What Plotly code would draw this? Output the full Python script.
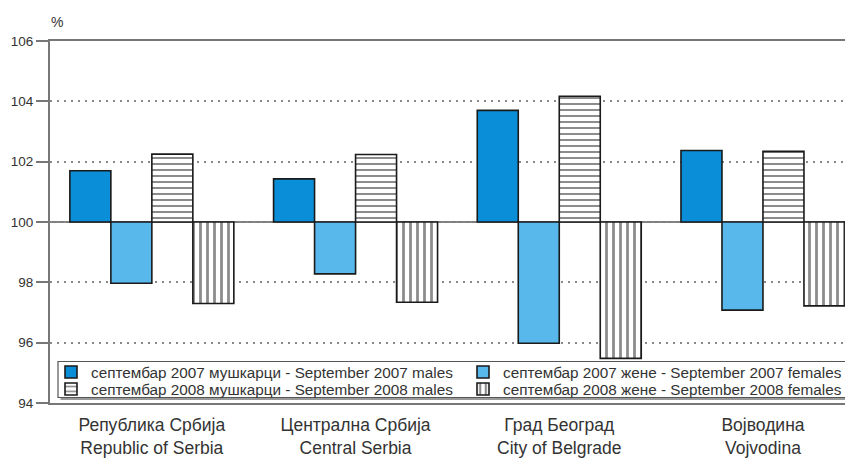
import plotly.graph_objects as go

categories = ["Република Србија<br>Republic of Serbia",
              "Централна Србија<br>Central Serbia",
              "Град Београд<br>City of Belgrade",
              "Војводина<br>Vojvodina"]
males_2007 = [101.70, 101.43, 103.70, 102.37]
females_2007 = [97.97, 98.28, 95.98, 97.08]
males_2008 = [102.25, 102.24, 104.17, 102.34]
females_2008 = [97.30, 97.34, 95.48, 97.22]
names = ["септембар 2007 мушкарци - September 2007 males",
         "септембар 2007 жене - September 2007 females",
         "септембар 2008 мушкарци - September 2008 males",
         "септембар 2008 жене - September 2008 females"]
BASE = 100
y_ticks = [94, 96, 98, 100, 102, 104, 106]

# page body has an 8px default margin: the figure origin sits at (8, 8) on screen
OFF = 8
W, H = 853, 459
# target plot area in screen pixels: left 50, top 41, right 853, bottom 403
ML, MT = 50 - OFF, 41 - OFF
MR = W - (853 - OFF)
MB = H - (403 - OFF)
PW, PH = W - ML - MR, H - MT - MB

def px_x(s):
    return (s - OFF - ML) / PW

def px_y(s):
    return (H - MB - (s - OFF)) / PH

OUT = "#1a1a1a"
fig = go.Figure()
specs = [
    (males_2007, dict(color="#0A8ED8"), "legend", 51, 372),
    (females_2007, dict(color="#58B8EC"), "legend2", 463, 372),
    (males_2008, dict(color="white", pattern=dict(shape="-", fgcolor=OUT, bgcolor="white", size=6, solidity=0.34)), "legend3", 51, 389),
    (females_2008, dict(color="white", pattern=dict(shape="|", fgcolor=OUT, bgcolor="white", size=7, solidity=0.4)), "legend4", 463, 389),
]
font = "Liberation Sans, Arial, Helvetica, sans-serif"

legends = {}
for (vals, mk, lg, lx, ly), nm in zip(specs, names):
    mk = dict(mk)
    mk["line"] = dict(color=OUT, width=1.6)
    fig.add_trace(go.Bar(
        x=categories, y=[v - BASE for v in vals], base=BASE, name=nm,
        marker=mk, legend=lg,
    ))
    legends[lg] = dict(x=px_x(lx), y=px_y(ly), xanchor="left", yanchor="middle",
                       bgcolor="rgba(0,0,0,0)", borderwidth=0,
                       font=dict(size=15.3, family=font, color="#333333"))

fig.update_layout(
    width=W, height=H,
    margin=dict(l=ML, r=MR, t=MT, b=MB, autoexpand=False),
    paper_bgcolor="white", plot_bgcolor="white",
    barmode="group", bargap=0.195, bargroupgap=0,
    font=dict(family=font, color="#333333"),
    xaxis=dict(range=[-0.5, 3.442], showline=True, linecolor="#777777", linewidth=2,
               mirror=True, ticks="", showgrid=False, automargin=False,
               ticklabelstandoff=5,
               tickfont=dict(size=17.5, color="#333333", family=font)),
    yaxis=dict(range=[94, 106], tickvals=y_ticks, showline=True, linecolor="#777777",
               linewidth=2, ticks="outside", ticklen=12, tickwidth=1.5, tickcolor="#777777",
               showgrid=True, gridcolor="#888888", gridwidth=2, griddash="2px,5px",
               zeroline=False, automargin=False,
               tickfont=dict(size=13.5, color="#333333", family=font)),
    showlegend=True,
    **legends,
)

# baseline at 100
fig.add_shape(type="line", xref="paper", yref="y", x0=0, x1=1, y0=BASE, y1=BASE,
              line=dict(color="#555555", width=1.5), layer="below")
# legend box with shadow
fig.add_shape(type="rect", xref="paper", yref="paper",
              x0=px_x(60.5), x1=px_x(853.5), y0=px_y(400), y1=px_y(364),
              fillcolor="#9a9a9a", line=dict(width=0), layer="above")
fig.add_shape(type="rect", xref="paper", yref="paper",
              x0=px_x(58), x1=px_x(851.5), y0=px_y(397.5), y1=px_y(361.5),
              fillcolor="white", line=dict(color="#555555", width=1.2), layer="above")

fig.add_annotation(text="%", xref="paper", yref="paper", x=px_x(57), y=px_y(22),
                   xanchor="center", yanchor="middle",
                   showarrow=False, font=dict(size=14, family=font, color="#333333"))

fig.write_html("out.html")
